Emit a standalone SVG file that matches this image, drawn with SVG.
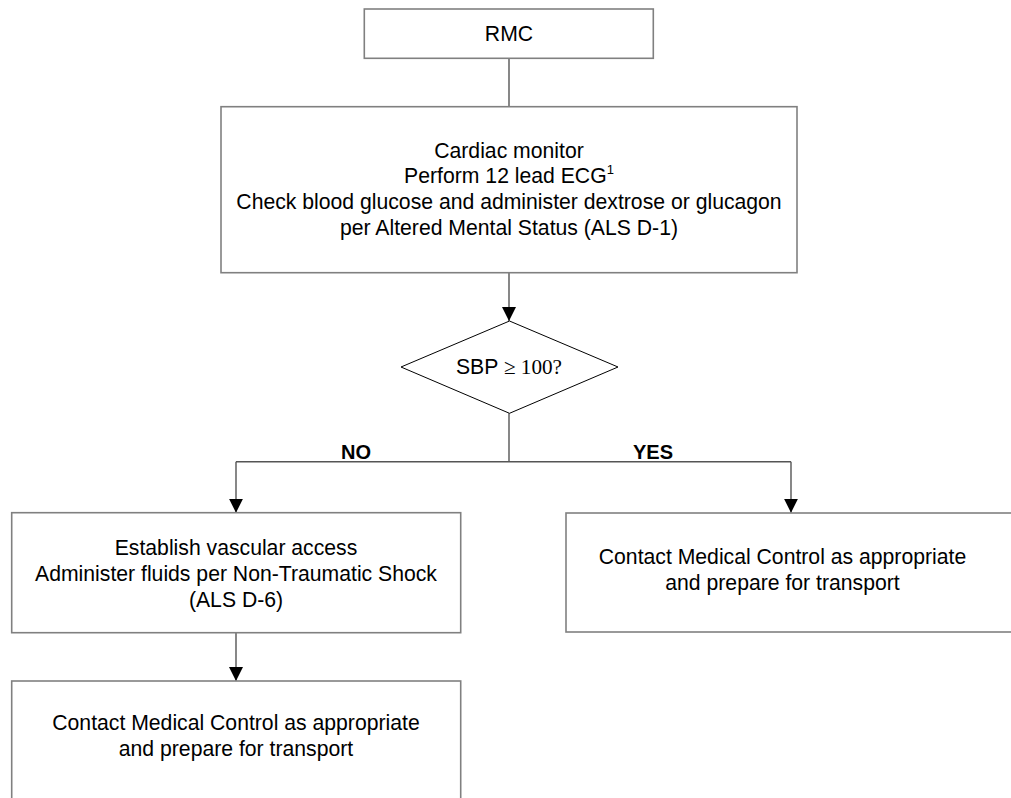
<svg xmlns="http://www.w3.org/2000/svg" width="1011" height="798" viewBox="0 0 1011 798">
<style>
.box{fill:#fff;stroke:#808080;stroke-width:1.6}
.dia{fill:#fff;stroke:#000;stroke-width:1}
.t{font-family:"Liberation Sans",Arial,sans-serif;font-size:21.2px;fill:#000;text-anchor:middle}
.lbl{font-family:"Liberation Sans",Arial,sans-serif;font-size:20px;font-weight:bold;fill:#000;text-anchor:middle}
.c{fill:none;stroke:#555;stroke-width:1.4}
.ser{font-family:"Liberation Serif","Times New Roman",serif}
</style>
<defs>
<marker id="arr" viewBox="0 0 14 14" refX="14" refY="7" markerWidth="14" markerHeight="14" markerUnits="userSpaceOnUse" orient="auto">
<path d="M0,0 L14,7 L0,14 Z" fill="#000"/>
</marker>
</defs>
<rect width="1011" height="798" fill="#fff"/>
<g id="connectors">
<path class="c" d="M509,58.3 V106.7"/>
<path class="c" d="M509,272.7 V321" marker-end="url(#arr)"/>
<path class="c" d="M509,413.3 V461.7"/>
<path class="c" d="M236,461.7 H791"/>
<path class="c" d="M236,461.7 V512.7" marker-end="url(#arr)"/>
<path class="c" d="M791,461.7 V512.7" marker-end="url(#arr)"/>
<path class="c" d="M236,632.7 V681" marker-end="url(#arr)"/>
<text class="lbl" x="356" y="459">NO</text>
<text class="lbl" x="653" y="459">YES</text>
</g>
<g id="rmc">
<rect class="box" x="364.3" y="9" width="289" height="49.3"/>
<text class="t" x="509" y="40.7">RMC</text>
</g>
<g id="monitor">
<rect class="box" x="221" y="106.7" width="576" height="166"/>
<text class="t" x="509" y="157.7">Cardiac monitor</text>
<text class="t" x="509" y="183.3">Perform 12 lead ECG<tspan font-size="13" dy="-9">1</tspan></text>
<text class="t" x="509" y="209.3">Check blood glucose and administer dextrose or glucagon</text>
<text class="t" x="509" y="235">per Altered Mental Status (ALS D-1)</text>
</g>
<g id="decision">
<polygon class="dia" points="509.5,321 618,367 509.5,413.3 401,367"/>
<text class="t" x="509" y="374" font-size="20"><tspan>SBP </tspan><tspan class="ser">≥ 100?</tspan></text>
</g>
<g id="access">
<rect class="box" x="11.7" y="512.7" width="449" height="120"/>
<text class="t" x="236" y="555">Establish vascular access</text>
<text class="t" x="236" y="581.3">Administer fluids per Non-Traumatic Shock</text>
<text class="t" x="236" y="606.7">(ALS D-6)</text>
</g>
<g id="contact-no">
<rect class="box" x="11.7" y="681" width="449" height="140"/>
<text class="t" x="236" y="730">Contact Medical Control as appropriate</text>
<text class="t" x="236" y="755.5">and prepare for transport</text>
</g>
<g id="contact-yes">
<rect class="box" x="566" y="513" width="460" height="119"/>
<text class="t" x="782.5" y="564">Contact Medical Control as appropriate</text>
<text class="t" x="782.5" y="590">and prepare for transport</text>
</g>
</svg>
